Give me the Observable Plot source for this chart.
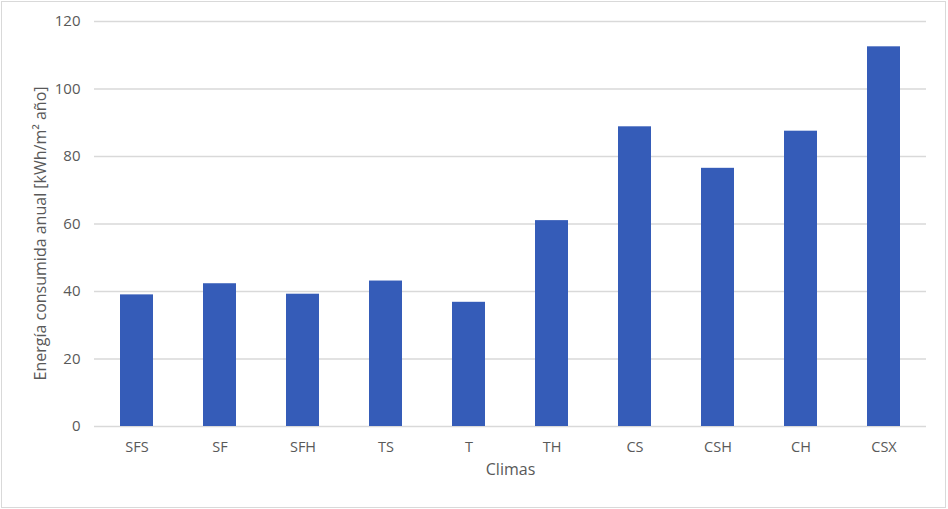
<!DOCTYPE html>
<html>
<head>
<meta charset="utf-8">
<script src="https://cdn.jsdelivr.net/npm/d3@7"></script>
<script src="https://cdn.jsdelivr.net/npm/@observablehq/plot@0.6"></script>
<style>
  html, body { margin: 0; padding: 0; background: #fff; }
  #wrap { position: relative; width: 948px; height: 509px; }
  #border { position: absolute; left: 1px; top: 1px; width: 943px; height: 505px; border: 1px solid #d9d9d9; box-sizing: content-box; pointer-events: none; }
  #chart { position: absolute; left: 0; top: 0; }
</style>
</head>
<body>
<div id="wrap"><div id="chart"></div><div id="border"></div></div>
<script>
const categories = ["SFS", "SF", "SFH", "TS", "T", "TH", "CS", "CSH", "CH", "CSX"];
const values = [39.0, 42.3, 39.2, 43.1, 36.8, 61.0, 88.8, 76.5, 87.5, 112.5];
const yTicks = [0, 20, 40, 60, 80, 100, 120];
const xLabel = "Climas";
const yLabel = "Energía consumida anual [kWh/m² año]";

const data = categories.map((c, i) => ({ clima: c, energia: values[i] }));
const textColor = "#595959";
const font = "'Open Sans', sans-serif";

const chart = Plot.plot({
  width: 948,
  height: 509,
  marginLeft: 94,
  marginRight: 22,
  marginTop: 21,
  marginBottom: 83,
  style: { fontFamily: font, fontSize: "15px", color: textColor, background: "transparent" },
  x: { domain: categories, paddingInner: 0.6, paddingOuter: 0.3, label: null },
  y: { domain: [0, 120], label: null },
  marks: [
    Plot.ruleY(yTicks, { stroke: "#d9d9d9", strokeWidth: 1.3 }),
    Plot.barY(data, { x: "clima", y: "energia", fill: "#355cb8" }),
    Plot.axisX({ tickSize: 0, tickPadding: 15, label: null, fill: textColor, fontSize: 14.5 }),
    Plot.axisY({ ticks: yTicks, tickSize: 0, tickPadding: 14, label: null, fill: textColor, fontSize: 15 }),
    Plot.text([xLabel], { frameAnchor: "bottom", dy: 48, fill: textColor, fontSize: 16 }),
    Plot.text([yLabel], { frameAnchor: "left", textAnchor: "middle", dx: -54, dy: 9.5, rotate: -90, fill: textColor, fontSize: 16 })
  ]
});
document.getElementById("chart").appendChild(chart);
</script>
</body>
</html>
